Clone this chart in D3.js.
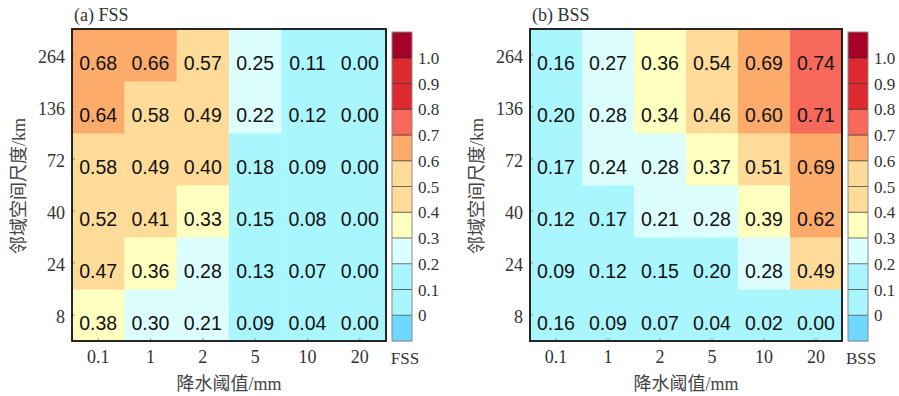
<!DOCTYPE html>
<html>
<head>
<meta charset="utf-8">
<script src="https://cdn.jsdelivr.net/npm/d3@7"></script>
<style>
  body { margin: 0; background: #fff; }
  svg { display: block; }
</style>
</head>
<body>
<svg id="chart" width="899" height="396"></svg>
<script>
// thresholds (mm) and neighbourhood scales (km)
const xCats = ["0.1", "1", "2", "5", "10", "20"];
const yCats = ["8", "24", "40", "72", "136", "264"];

// rows go from 8 km (bottom) up to 264 km (top)
const fssRows = [
  [0.38, 0.298, 0.21, 0.09, 0.04, 0.00],
  [0.47, 0.36, 0.28, 0.13, 0.07, 0.00],
  [0.52, 0.41, 0.33, 0.15, 0.08, 0.00],
  [0.58, 0.49, 0.40, 0.18, 0.09, 0.00],
  [0.64, 0.58, 0.49, 0.22, 0.12, 0.00],
  [0.68, 0.66, 0.57, 0.25, 0.11, 0.00]
];
const bssRows = [
  [0.16, 0.09, 0.07, 0.04, 0.02, 0.00],
  [0.09, 0.12, 0.15, 0.198, 0.28, 0.49],
  [0.12, 0.17, 0.21, 0.28, 0.39, 0.62],
  [0.17, 0.24, 0.28, 0.37, 0.51, 0.69],
  [0.198, 0.28, 0.34, 0.46, 0.60, 0.71],
  [0.16, 0.27, 0.36, 0.54, 0.69, 0.74]
];

const levels = [0, 0.1, 0.2, 0.3, 0.4, 0.5, 0.6, 0.7, 0.8, 0.9, 1.0];
const levelLabels = ["0", "0.1", "0.2", "0.3", "0.4", "0.5", "0.6", "0.7", "0.8", "0.9", "1.0"];
const colors = ["#6dd7ff", "#aaf6ff", "#aaf6ff", "#ddfeff", "#ffffbf", "#fedb98",
                "#fedb98", "#fdab6b", "#f6695b", "#dd2a30", "#dd2a30", "#a50026"];

const color = d3.scaleThreshold().domain(levels).range(colors);
const fmt = d3.format(".2f");

const svg = d3.select("#chart");
const serif = "'Liberation Serif', 'Times New Roman', serif";
const cjk = "'Liberation Serif', 'Noto Sans CJK SC', serif";

function drawPanel(left, cbLeft, title, cbTitle, rows) {
  const top = 29, bottom = 341;
  const width = cbLeft - 6 - left;

  const x = d3.scaleBand().domain(xCats).range([left, left + width]);
  const y = d3.scaleBand().domain(yCats).range([bottom, top]);

  const cells = [];
  rows.forEach((r, i) => r.forEach((v, j) => cells.push({x: xCats[j], y: yCats[i], v: v})));

  const g = svg.append("g");

  g.selectAll("rect.cell")
    .data(cells)
    .enter().append("rect")
    .attr("class", "cell")
    .attr("x", d => x(d.x))
    .attr("y", d => y(d.y))
    .attr("width", x.bandwidth() + 0.5)
    .attr("height", y.bandwidth() + 0.5)
    .attr("fill", d => color(d.v));

  g.selectAll("text.val")
    .data(cells)
    .enter().append("text")
    .attr("class", "val")
    .attr("x", d => x(d.x) + x.bandwidth() / 2)
    .attr("y", d => y(d.y) + y.bandwidth() / 2 + 15)
    .attr("text-anchor", "middle")
    .style("font-family", "'Liberation Sans', Arial, sans-serif")
    .style("font-size", "19.5px")
    .attr("fill", "#111")
    .text(d => fmt(d.v));

  // small inner tick marks
  const xAxis = g.append("g")
    .attr("transform", `translate(0,${bottom})`)
    .call(d3.axisBottom(x).tickSizeInner(-3).tickSizeOuter(0).tickPadding(9));
  xAxis.select(".domain").remove();
  xAxis.selectAll("line").attr("stroke", "#999");
  xAxis.selectAll("text")
    .style("font-family", serif).style("font-size", "18px").attr("fill", "#333");

  const yAxis = g.append("g")
    .attr("transform", `translate(${left},0)`)
    .call(d3.axisLeft(y).tickSizeInner(-3).tickSizeOuter(0).tickPadding(7));
  yAxis.select(".domain").remove();
  yAxis.selectAll("line").attr("stroke", "#999");
  yAxis.selectAll("text")
    .attr("dy", "0.42em")
    .style("font-family", serif).style("font-size", "18px").attr("fill", "#333");

  g.append("rect")
    .attr("x", left).attr("y", top)
    .attr("width", width).attr("height", bottom - top)
    .attr("fill", "none").attr("stroke", "#111").attr("stroke-width", 1.8);

  g.append("text")
    .attr("x", left + 2).attr("y", 21)
    .style("font-family", serif).style("font-size", "18px").attr("fill", "#333")
    .text(title);

  g.append("text")
    .attr("x", left + width / 2).attr("y", 390)
    .attr("text-anchor", "middle")
    .style("font-family", cjk).style("font-size", "18px").attr("fill", "#444")
    .text("降水阈值/mm");

  g.append("text")
    .attr("transform", `translate(${left - 47},${(top + bottom) / 2 + 1}) rotate(-90)`)
    .attr("text-anchor", "middle")
    .style("font-family", cjk).style("font-size", "18px").attr("fill", "#444")
    .text("邻域空间尺度/km");

  // colour bar
  const cbW = 20, cbTop = 32, cbBottom = 341;
  const cy = d3.scaleLinear().domain([-0.1, 1.1]).range([cbBottom, cbTop]);
  const segs = [-0.1].concat(levels);
  const cb = svg.append("g");
  cb.selectAll("rect.seg")
    .data(segs)
    .enter().append("rect")
    .attr("class", "seg")
    .attr("x", cbLeft)
    .attr("y", d => cy(d + 0.1))
    .attr("width", cbW)
    .attr("height", cy(0) - cy(0.1) + 0.5)
    .attr("fill", d => color(d + 0.05));
  cb.selectAll("line.sep")
    .data(levels)
    .enter().append("line")
    .attr("class", "sep")
    .attr("x1", cbLeft).attr("x2", cbLeft + cbW)
    .attr("y1", d => cy(d)).attr("y2", d => cy(d))
    .attr("stroke", "#333").attr("stroke-opacity", 0.7).attr("stroke-width", 1);
  cb.append("rect")
    .attr("x", cbLeft).attr("y", cbTop)
    .attr("width", cbW).attr("height", cbBottom - cbTop)
    .attr("fill", "none").attr("stroke", "#888").attr("stroke-width", 1);
  cb.selectAll("text.lab")
    .data(levels)
    .enter().append("text")
    .attr("class", "lab")
    .attr("x", cbLeft + cbW + 6)
    .attr("y", d => cy(d) + 6)
    .style("font-family", serif).style("font-size", "17px").attr("fill", "#333")
    .text((d, i) => levelLabels[i]);
  cb.append("text")
    .attr("x", cbLeft + cbW / 2 + 3).attr("y", 364)
    .attr("text-anchor", "middle")
    .style("font-family", serif).style("font-size", "17px").attr("fill", "#333")
    .text(cbTitle);
}

drawPanel(72, 392, "(a) FSS", "FSS", fssRows);
drawPanel(530, 848, "(b) BSS", "BSS", bssRows);
</script>
</body>
</html>
